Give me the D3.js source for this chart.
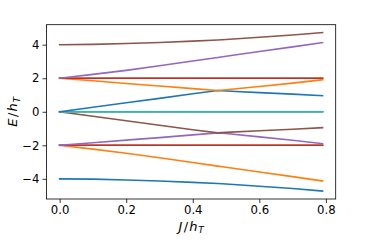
<!DOCTYPE html>
<html><head><meta charset="utf-8">
<script src="https://cdn.jsdelivr.net/npm/d3@7"></script>
<style>body{margin:0;background:#fff}svg{display:block}text{font-family:"DejaVu Sans",sans-serif}</style>
</head><body>
<svg id="c" width="374" height="249"></svg>
<script>
const xs = [0, 0.1, 0.2, 0.3, 0.4, 0.475, 0.5, 0.6, 0.7, 0.79];
const E0  = [-4, -4.02, -4.07, -4.13, -4.21, -4.28, -4.31, -4.44, -4.58, -4.73];
const E1  = [-2, -2.23, -2.47, -2.74, -3.03, -3.24, -3.31, -3.59, -3.87, -4.13];
const E2  = [-2, -2, -2, -2, -2, -2, -2, -2, -2, -2];
const E3  = [-2, -2, -2, -2, -2, -2, -2, -2, -2, -2];
const E4  = [-2, -1.85, -1.69, -1.54, -1.38, -1.26, -1.30, -1.50, -1.70, -1.90];
const E5  = [0, -0.27, -0.54, -0.80, -1.07, -1.26, -1.23, -1.13, -1.04, -0.95];
const E6  = [0, 0, 0, 0, 0, 0, 0, 0, 0, 0];
const E7  = [0, 0, 0, 0, 0, 0, 0, 0, 0, 0];
const E8  = [0, 0, 0, 0, 0, 0, 0, 0, 0, 0];
const E9  = [0, 0, 0, 0, 0, 0, 0, 0, 0, 0];
const E10 = [0, 0.27, 0.54, 0.80, 1.07, 1.27, 1.24, 1.14, 1.05, 0.96];
const E11 = [2, 1.85, 1.69, 1.54, 1.38, 1.27, 1.31, 1.51, 1.71, 1.91];
const E12 = [2, 2, 2, 2, 2, 2, 2, 2, 2, 2];
const E13 = [2, 2, 2, 2, 2, 2, 2, 2, 2, 2];
const E14 = [2, 2.23, 2.47, 2.74, 3.03, 3.24, 3.31, 3.59, 3.87, 4.12];
const E15 = [4, 4.02, 4.07, 4.13, 4.21, 4.28, 4.31, 4.44, 4.58, 4.72];
const levels = [E0,E1,E2,E3,E4,E5,E6,E7,E8,E9,E10,E11,E12,E13,E14,E15];
const xTicks = [0, 0.2, 0.4, 0.6, 0.8];
const yTicks = [-4, -2, 0, 2, 4];
const colors = ["#1f77b4","#ff7f0e","#2ca02c","#d62728","#9467bd","#8c564b","#e377c2","#7f7f7f","#bcbd22","#17becf"];

const L = 46.5, R = 335.7, T = 24.7, B = 199;
const svg = d3.select("#c");
const xmin = d3.min(xs), xmax = d3.max(xs);
const ymin = d3.min(levels.flat()), ymax = d3.max(levels.flat());
const xm = (xmax - xmin) * 0.05, ym = (ymax - ymin) * 0.05;
const x = d3.scaleLinear().domain([xmin - xm, xmax + xm]).range([L, R]);
const y = d3.scaleLinear().domain([ymin - ym, ymax + ym]).range([B, T]);

const line = d3.line().x(d => x(d[0])).y(d => y(d[1]));
levels.forEach((lv, i) => {
  svg.append("path")
    .attr("d", line(xs.map((v, j) => [v, lv[j]])))
    .attr("fill", "none")
    .attr("stroke", colors[i % 10])
    .attr("stroke-width", 1.6)
    .attr("stroke-linecap", "square");
});

const fs = 11.7;
const xAxis = svg.append("g").attr("transform", `translate(0,${B})`)
  .call(d3.axisBottom(x).tickValues(xTicks).tickFormat(d3.format(".1f")).tickSize(4).tickPadding(3));
const yAxis = svg.append("g").attr("transform", `translate(${L},0)`)
  .call(d3.axisLeft(y).tickValues(yTicks).tickFormat(d => d < 0 ? "\u2212" + Math.abs(d) : d).tickSize(4).tickPadding(3));
[xAxis, yAxis].forEach(a => {
  a.select(".domain").remove();
  a.selectAll("text").attr("font-size", fs).attr("font-family", "DejaVu Sans").attr("fill", "#000");
  a.selectAll("line").attr("stroke", "#000").attr("stroke-width", 0.8);
});

svg.append("rect").attr("x", L).attr("y", T).attr("width", R - L).attr("height", B - T)
  .attr("fill", "none").attr("stroke", "#000").attr("stroke-width", 0.8);

const lfs = 13;
function mathLabel(g, a) {
  const t = g.append("text").attr("font-size", lfs).attr("text-anchor", "middle");
  t.append("tspan").attr("font-style", "italic").text(a);
  t.append("tspan").attr("dx", 1.5).text("/");
  t.append("tspan").attr("dx", 1).attr("font-style", "italic").text("h");
  t.append("tspan").attr("dx", 0.8).attr("font-style", "italic").attr("font-size", lfs * 0.7).attr("dy", 2.8).text("T");
  return t;
}
mathLabel(svg.append("g").attr("transform", `translate(${(L + R) / 2},230.5)`), "J");
mathLabel(svg.append("g").attr("transform", `translate(17,${(T + B) / 2}) rotate(-90)`), "E");
</script>
</body></html>
